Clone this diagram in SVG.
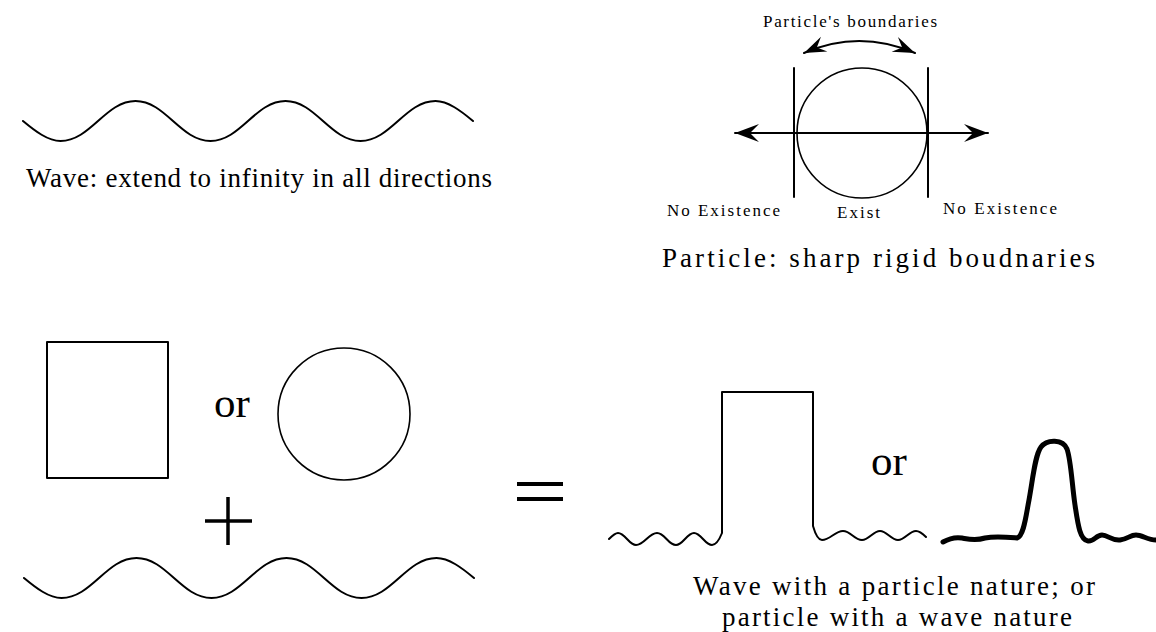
<svg xmlns="http://www.w3.org/2000/svg" width="1156" height="632" viewBox="0 0 1156 632">
<style>
  .ln{fill:none;stroke:#000;stroke-width:2;stroke-linejoin:round;stroke-linecap:round}
  .thin{fill:none;stroke:#000;stroke-width:1.6}
  .thick{fill:none;stroke:#000;stroke-width:5;stroke-linejoin:round;stroke-linecap:round}
  .big{font-family:"Liberation Serif","Times New Roman",serif;font-size:27px;fill:#000}
  .sm{font-family:"Liberation Serif","Times New Roman",serif;font-size:17px;fill:#000}
  .or{font-family:"Liberation Serif","Times New Roman",serif;font-size:43px;fill:#000}
</style>
<defs>
  <marker id="ah" viewBox="-25 -10 26 20" markerWidth="26" markerHeight="20" refX="0" refY="0" orient="auto-start-reverse" markerUnits="userSpaceOnUse">
    <path d="M0,0 L-24,-9 L-15,0 L-24,9 Z" fill="#000"/>
  </marker>
  <marker id="ahs" viewBox="-23 -9 24 18" markerWidth="24" markerHeight="18" refX="0" refY="0" orient="auto-start-reverse" markerUnits="userSpaceOnUse">
    <path d="M0,0 L-22,-8 L-14,0 L-22,8 Z" fill="#000"/>
  </marker>
  <path id="wave" d="M23,121 C35,131 48,141 60.5,141 C90.5,141 105.5,101 135.5,101 C165.5,101 180.5,141 210.5,141 C240.5,141 255.5,101 285.5,101 C315.5,101 330.5,141 360.5,141 C390.5,141 405.5,101 435.5,101 C448,101 461,111 473,121"/>
</defs>
<rect width="1156" height="632" fill="#fff"/>

<g id="wave-top">
  <use href="#wave" class="ln"/>
  <text class="big" x="26" y="187" textLength="466" lengthAdjust="spacing">Wave: extend to infinity in all directions</text>
</g>

<g id="particle">
  <circle class="thin" cx="862" cy="133" r="65"/>
  <line class="ln" x1="794" y1="68" x2="794" y2="197"/>
  <line class="ln" x1="928" y1="68" x2="928" y2="197"/>
  <text class="sm" x="763" y="27" textLength="174" lengthAdjust="spacing">Particle's boundaries</text>
  <text class="sm" x="667" y="216" textLength="113" lengthAdjust="spacing">No Existence</text>
  <text class="sm" x="837" y="218" textLength="43" lengthAdjust="spacing">Exist</text>
  <text class="sm" x="943" y="214" textLength="114" lengthAdjust="spacing">No Existence</text>
  <text class="big" x="662" y="267" textLength="433" lengthAdjust="spacing">Particle: sharp rigid boudnaries</text>
</g>

<g id="connectors">
  <line class="ln" x1="735" y1="133" x2="988" y2="133" marker-start="url(#ah)" marker-end="url(#ah)"/>
  <path class="ln" d="M804,53 Q859,29 915,53" marker-start="url(#ahs)" marker-end="url(#ahs)"/>
</g>

<g id="square">
  <rect class="ln" x="47" y="342" width="121" height="136"/>
</g>
<g id="or-left">
  <text class="or" x="214" y="417">or</text>
</g>
<g id="circle">
  <circle class="thin" cx="344" cy="414" r="66"/>
</g>
<g id="plus">
  <line x1="205" y1="521" x2="252" y2="521" stroke="#000" stroke-width="3.5"/>
  <line x1="228" y1="497" x2="228" y2="545" stroke="#000" stroke-width="3.5"/>
</g>
<g id="wave-bottom">
  <use href="#wave" class="ln" transform="translate(1,457)"/>
</g>
<g id="equals">
  <line x1="517" y1="484" x2="563" y2="484" stroke="#000" stroke-width="4"/>
  <line x1="517" y1="499" x2="563" y2="499" stroke="#000" stroke-width="4"/>
</g>

<g id="pulse">
  <path class="ln" d="M609,539 C613,535 615,533 618,533 C625,533 629,545 636,545 C644,545 649,533 657,533 C665,533 668,545 676,545 C683,545 687,533 694,533 C701,533 705,545 712,545 C717,545 720,538 722,533 L722,392 L813,392 L813,526 C815,533 818,540 822,540 C830,540 835,531 843,531 C851,531 854,540 862,540 C869,540 873,531 880,531 C887,531 891,540 898,540 C905,540 909,531 916,531 C920,531 923,534 926,537"/>
</g>
<g id="or-right">
  <text class="or" x="871" y="475">or</text>
</g>
<g id="peak">
  <path class="thick" d="M943,542 C950,538 956,537 962,538 C968,539 975,541 985,538 C995,536 1005,537 1017,538 C1024,536 1026,515 1029,500 C1033,478 1035,455 1041,447 C1047,439 1063,439 1067,449 C1071,460 1072,485 1075,505 C1078,525 1080,540 1088,541 C1094,542 1096,535 1102,535 C1108,535 1112,541 1120,540 C1128,539 1130,535 1136,535 C1142,535 1148,540 1156,540"/>
</g>
<g id="caption-bottom">
  <text class="big" x="693" y="595" textLength="402" lengthAdjust="spacing">Wave with a particle nature; or</text>
  <text class="big" x="722" y="626" textLength="350" lengthAdjust="spacing">particle with a wave nature</text>
</g>
</svg>
